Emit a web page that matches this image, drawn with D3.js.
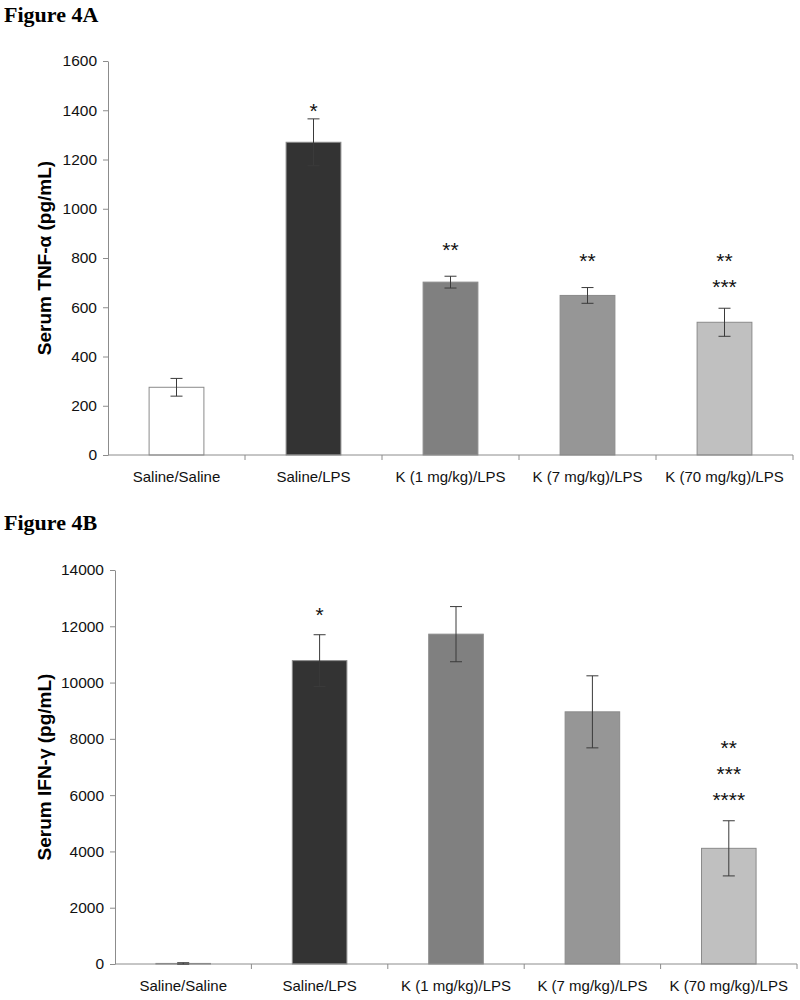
<!DOCTYPE html>
<html>
<head>
<meta charset="utf-8">
<script src="https://cdn.jsdelivr.net/npm/d3@7"></script>
<style>
  body { margin: 0; background: #fff; }
  svg { display: block; }
</style>
</head>
<body>
<svg id="chart" width="800" height="1000"></svg>
<script>
// ---- Data ----
const categories = ["Saline/Saline", "Saline/LPS", "K (1 mg/kg)/LPS", "K (7 mg/kg)/LPS", "K (70 mg/kg)/LPS"];
const barColors = ["#ffffff", "#333333", "#808080", "#969696", "#c0c0c0"];

// Figure 4A: Serum TNF-α
const tnfValues = [275, 1270, 702, 648, 539];
const tnfErrors = [36, 95, 24, 32, 57];
const tnfTicks = [0, 200, 400, 600, 800, 1000, 1200, 1400, 1600];
// significance labels: [category index, label, y value where label is centred]
const tnfStars = [[1, "*", 1417], [2, "**", 853], [3, "**", 808], [4, "**", 808], [4, "***", 703]];

// Figure 4B: Serum IFN-γ
const ifnValues = [20, 10780, 11720, 8960, 4110];
const ifnErrors = [25, 920, 980, 1280, 980];
const ifnTicks = [0, 2000, 4000, 6000, 8000, 10000, 12000, 14000];
const ifnStars = [[1, "*", 12590], [4, "**", 7860], [4, "***", 6913], [4, "****", 6000]];

const svg = d3.select("#chart");

function panel(opt) {
  const g = svg.append("g");
  const cat = d3.scaleBand().domain(categories).range([opt.x0, opt.x1]).padding(0);
  const xb = d3.scaleBand().domain(categories).range([opt.x0, opt.x1])
    .paddingInner(0.6).paddingOuter(0.3);
  const y = d3.scaleLinear().domain([0, d3.max(opt.ticks)]).range([opt.y0, opt.y1]);

  // title
  svg.append("text").attr("x", 4).attr("y", opt.titleY)
    .attr("font-family", "Liberation Serif, Times New Roman, serif")
    .attr("font-weight", "bold").attr("font-size", 22).attr("fill", "#000")
    .text(opt.title);

  // y axis
  const yAxis = d3.axisLeft(y).tickValues(opt.ticks).tickFormat(d3.format("d"))
    .tickSize(5).tickSizeOuter(0).tickPadding(6);
  const ya = g.append("g").attr("transform", `translate(${opt.x0},0)`).call(yAxis);
  ya.select(".domain").attr("stroke", "#8c8c8c");
  ya.selectAll(".tick line").attr("stroke", "#8c8c8c");
  ya.selectAll(".tick text").attr("font-family", "Liberation Sans, Arial, sans-serif")
    .attr("font-size", 15.5).attr("fill", "#111");

  // bars
  g.selectAll("rect.bar").data(opt.values).enter().append("rect")
    .attr("class", "bar")
    .attr("x", (d, i) => xb(categories[i]))
    .attr("width", xb.bandwidth())
    .attr("y", d => y(d))
    .attr("height", d => y(0) - y(d))
    .attr("fill", (d, i) => barColors[i])
    .attr("stroke", "#8a8a8a").attr("stroke-width", 1);

  // x axis line and boundary ticks
  g.append("line").attr("x1", opt.x0).attr("x2", opt.x1)
    .attr("y1", y(0)).attr("y2", y(0)).attr("stroke", "#8c8c8c");
  const bounds = categories.map(c => cat(c)).concat([cat(categories[categories.length - 1]) + cat.bandwidth()]);
  g.selectAll("line.xt").data(bounds.slice(1)).enter().append("line")
    .attr("x1", d => d).attr("x2", d => d)
    .attr("y1", y(0)).attr("y2", y(0) + 5).attr("stroke", "#8c8c8c");
  g.selectAll("text.xl").data(categories).enter().append("text")
    .attr("x", d => cat(d) + cat.bandwidth() / 2)
    .attr("y", y(0) + 27)
    .attr("text-anchor", "middle")
    .attr("font-family", "Liberation Sans, Arial, sans-serif")
    .attr("font-size", 15).attr("fill", "#111")
    .text(d => d);

  // error bars
  const cap = 6;
  const eb = g.selectAll("g.err").data(opt.values).enter().append("g")
    .attr("stroke", "#3a3a3a").attr("stroke-width", 1);
  eb.append("line")
    .attr("x1", (d, i) => cat(categories[i]) + cat.bandwidth() / 2)
    .attr("x2", (d, i) => cat(categories[i]) + cat.bandwidth() / 2)
    .attr("y1", (d, i) => y(d + opt.errors[i]))
    .attr("y2", (d, i) => y(d - opt.errors[i]));
  eb.append("line")
    .attr("x1", (d, i) => cat(categories[i]) + cat.bandwidth() / 2 - cap)
    .attr("x2", (d, i) => cat(categories[i]) + cat.bandwidth() / 2 + cap)
    .attr("y1", (d, i) => y(d + opt.errors[i]))
    .attr("y2", (d, i) => y(d + opt.errors[i]));
  eb.append("line")
    .attr("x1", (d, i) => cat(categories[i]) + cat.bandwidth() / 2 - cap)
    .attr("x2", (d, i) => cat(categories[i]) + cat.bandwidth() / 2 + cap)
    .attr("y1", (d, i) => y(d - opt.errors[i]))
    .attr("y2", (d, i) => y(d - opt.errors[i]));

  // significance stars
  g.selectAll("text.star").data(opt.stars).enter().append("text")
    .attr("x", d => cat(categories[d[0]]) + cat.bandwidth() / 2)
    .attr("y", d => y(d[2]) + 12)
    .attr("text-anchor", "middle")
    .attr("font-family", "Liberation Sans, Arial, sans-serif")
    .attr("font-size", 21).attr("fill", "#111")
    .text(d => d[1]);

  // y label
  svg.append("text")
    .attr("transform", `translate(${opt.labelX},${(opt.y0 + opt.y1) / 2}) rotate(-90)`)
    .attr("text-anchor", "middle")
    .attr("font-family", "Liberation Sans, Arial, sans-serif")
    .attr("font-weight", "bold").attr("font-size", 19).attr("fill", "#000")
    .text(opt.ylabel);
}

panel({
  title: "Figure 4A", titleY: 22,
  x0: 108, x1: 793, y0: 455, y1: 61,
  values: tnfValues, errors: tnfErrors, ticks: tnfTicks, stars: tnfStars,
  ylabel: "Serum TNF-α (pg/mL)", labelX: 51
});

panel({
  title: "Figure 4B", titleY: 530,
  x0: 115, x1: 797, y0: 964, y1: 570,
  values: ifnValues, errors: ifnErrors, ticks: ifnTicks, stars: ifnStars,
  ylabel: "Serum IFN-γ (pg/mL)", labelX: 51
});
</script>
</body>
</html>
